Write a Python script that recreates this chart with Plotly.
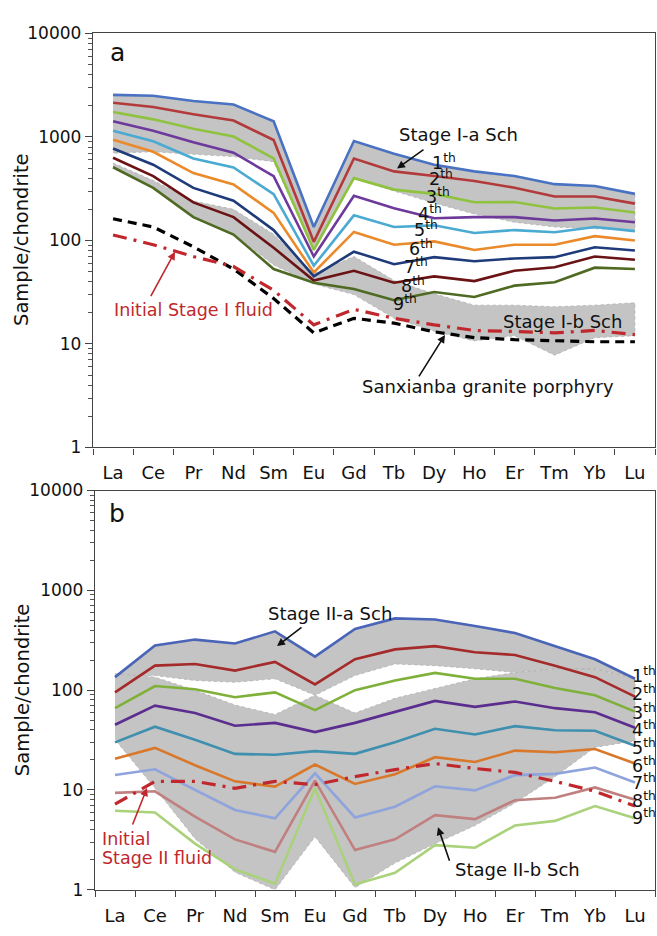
import plotly.graph_objects as go

cats = ["La", "Ce", "Pr", "Nd", "Sm", "Eu", "Gd", "Tb", "Dy", "Ho", "Er", "Tm", "Yb", "Lu"]

# ---- panel a : Stage I scheelite (chondrite-normalised) ----
a1 = [2550, 2500, 2230, 2060, 1420, 135, 915, 690, 540, 465, 420, 350, 336, 282]
a2 = [2140, 1950, 1660, 1440, 935, 97, 620, 465, 420, 375, 323, 266, 266, 227]
a3 = [1740, 1480, 1200, 1010, 620, 81, 400, 310, 282, 234, 235, 204, 208, 186]
a4 = [1420, 1150, 890, 705, 418, 70, 270, 205, 164, 168, 168, 156, 163, 150]
a5 = [1150, 910, 620, 507, 280, 57, 175, 135, 140, 118, 126, 120, 135, 123]
a6 = [940, 720, 448, 348, 185, 49, 121, 91, 98, 81, 91, 91, 110, 100]
a7 = [775, 540, 322, 242, 126, 45, 78, 59, 69, 63, 67, 69, 86, 80]
a8 = [630, 418, 233, 168, 85, 41, 51, 39, 45, 40.5, 51, 55, 70, 65]
a9 = [510, 322, 168, 114, 53, 39, 34, 26.5, 31.8, 28.4, 36.6, 39.4, 54.6, 53]
granite = [162, 135, 87, 53, 27.5, 12.8, 17.7, 15.9, 13.1, 11.5, 11, 10.7, 10.5, 10.5]
fluid1 = [113, 91, 70, 56, 33, 15.3, 21.6, 17.7, 15.3, 13.5, 13.2, 12.8, 13.5, 12.3]
Ia_upper = a1
Ia_lower = [695, 720, 680, 646, 577, 80, 400, 300, 230, 180, 150, 135, 130, 125]
Ib_upper = [560, 380, 240, 200, 115, 48, 70, 41, 30.5, 23.7, 23.7, 22.9, 23.7, 25]
Ib_lower = [500, 330, 170, 115, 58, 38, 30, 17.7, 13.3, 10.7, 12, 7.8, 11.5, 12]

# ---- panel b : Stage II scheelite ----
b1 = [135, 280, 321, 293, 388, 217, 411, 523, 510, 440, 373, 276, 204, 130]
b2 = [95, 176, 183, 157, 192, 114, 204, 256, 276, 240, 225, 176, 135, 86]
b3 = [66, 110, 102, 85, 95, 63, 100, 125, 149, 130, 130, 105, 89, 61]
b4 = [45, 70, 59, 44, 47, 38, 47, 61, 78, 68, 77, 66, 60, 42]
b5 = [30, 43, 31.8, 23, 22.5, 24.5, 23, 30, 41, 36, 43.6, 39.6, 39.2, 27.7]
b6 = [20.6, 26.4, 17.7, 12.2, 10.8, 18, 11.5, 14.4, 21.3, 19.1, 24.8, 23.9, 25.7, 18.4]
b7 = [14.1, 16.1, 10, 6.3, 5.2, 14.7, 5.3, 6.8, 10.9, 9.9, 14.1, 14.5, 16.8, 11.9]
b8 = [9.35, 9.7, 5.4, 3.2, 2.4, 12.4, 2.5, 3.2, 5.6, 5.1, 7.9, 8.35, 10.6, 8.0]
b9 = [6.2, 5.95, 2.9, 1.6, 1.15, 10.4, 1.13, 1.48, 2.8, 2.64, 4.4, 4.9, 6.9, 5.2]
fluid2 = [7.2, 12.2, 12.2, 10.4, 12.2, 11.3, 13.6, 16, 18.4, 16.4, 15, 12.2, 9.7, 6.9]
IIa_upper = b1
IIa_lower = [135, 140, 125, 120, 130, 89, 140, 183, 176, 164, 150, 163, 163, 130]
IIb_upper = [146, 135, 100, 71, 57, 89, 59, 83, 104, 130, 150, 163, 163, 130]
IIb_lower = [32, 10.4, 3.25, 1.5, 1.0, 3.4, 1.05, 1.85, 2.9, 4.4, 7.4, 13.6, 26.8, 31]

ord_labels = ["1", "2", "3", "4", "5", "6", "7", "8", "9"]
y_ticks = [1, 10, 100, 1000, 10000]
y_ticktext = ["1", "10", "100", "1000", "10000"]

colors_a = ["#4a72c2", "#b33a3a", "#8fc23f", "#6d3a9c", "#4aaad2",
            "#ea8a2b", "#1f3b7a", "#6a1214", "#4f6a22"]
colors_b = ["#4a64b8", "#a52a2a", "#7fb03a", "#5b2d8e", "#3f8fae",
            "#d9782a", "#8fa3dc", "#c08080", "#a9d27a"]
GREY = "#c4c4c4"
RED = "#c0282d"
FONT = "DejaVu Sans"
W, H = 657, 936

fig = go.Figure()


def band(upper, lower, xa, ya):
    fig.add_trace(go.Scatter(
        x=cats + cats[::-1], y=upper + lower[::-1], xaxis=xa, yaxis=ya,
        fill="toself", fillcolor=GREY, mode="lines",
        line=dict(color="#b0b0b0", width=0.8, dash="dot"),
        hoverinfo="skip", showlegend=False))


band(Ia_upper, Ia_lower, "x", "y")
band(Ib_upper, Ib_lower, "x", "y")
band(IIa_upper, IIa_lower, "x2", "y2")
band(IIb_upper, IIb_lower, "x2", "y2")

for ser, col in zip([a1, a2, a3, a4, a5, a6, a7, a8, a9], colors_a):
    fig.add_trace(go.Scatter(x=cats, y=ser, xaxis="x", yaxis="y", mode="lines",
                             line=dict(color=col, width=2.6), showlegend=False))
fig.add_trace(go.Scatter(x=cats, y=granite, xaxis="x", yaxis="y", mode="lines",
                         line=dict(color="black", width=3.2, dash="9px,6px"), showlegend=False))
fig.add_trace(go.Scatter(x=cats, y=fluid1, xaxis="x", yaxis="y", mode="lines",
                         line=dict(color=RED, width=3.2, dash="14px,7px,3px,7px"), showlegend=False))

for ser, col in zip([b1, b2, b3, b4, b5, b6, b7, b8, b9], colors_b):
    fig.add_trace(go.Scatter(x=cats, y=ser, xaxis="x2", yaxis="y2", mode="lines",
                             line=dict(color=col, width=2.6), showlegend=False))
fig.add_trace(go.Scatter(x=cats, y=fluid2, xaxis="x2", yaxis="y2", mode="lines",
                         line=dict(color=RED, width=3.2, dash="14px,7px,3px,7px"), showlegend=False))

minor_vals = [m * 10 ** e for e in range(0, 4) for m in range(2, 10)]

xcommon = dict(type="category", categoryorder="array", categoryarray=cats,
               range=[-0.5, 13.5], tickson="boundaries", ticks="outside", ticklen=6,
               tickcolor="#444", showline=True, linecolor="#444", linewidth=1.4,
               mirror=True, showgrid=False, zeroline=False, ticklabelstandoff=9,
               tickfont=dict(family=FONT, size=18, color="#111"))
ycommon = dict(type="log", range=[0, 4], tickmode="array", tickvals=y_ticks,
               ticktext=y_ticktext, ticks="outside", ticklen=7, tickcolor="#444",
               showline=True, linecolor="#444", linewidth=1.4, mirror=True,
               showgrid=False, zeroline=False,
               minor=dict(tickmode="array", tickvals=minor_vals, ticks="outside",
                          ticklen=4, tickcolor="#555", showgrid=False),
               tickfont=dict(family=FONT, size=17, color="#111"))

fig.update_layout(
    width=W, height=H, margin=dict(l=0, r=0, t=0, b=0),
    paper_bgcolor="white", plot_bgcolor="white", showlegend=False,
    xaxis=dict(domain=[93 / W, 655 / W], anchor="y", **xcommon),
    yaxis=dict(domain=[1 - 447 / H, 1 - 24 / H], anchor="x", **ycommon),
    xaxis2=dict(domain=[95 / W, 655 / W], anchor="y2", **xcommon),
    yaxis2=dict(domain=[1 - 899 / H, 1 - 491 / H], anchor="x2", **ycommon),
)


def P(px, py):
    return px / W, 1 - py / H


def text(px, py, s, size=18, color="#111", xanchor="center", angle=0):
    x, y = P(px, py)
    fig.add_annotation(x=x, y=y, xref="paper", yref="paper", text=s, showarrow=False,
                       xanchor=xanchor, yanchor="middle", textangle=angle,
                       font=dict(family=FONT, size=size, color=color))


def arrow(tx, ty, hx, hy, color="#111"):
    x, y = P(hx, hy)
    fig.add_annotation(x=x, y=y, xref="paper", yref="paper", text="", showarrow=True,
                       ax=tx - hx, ay=ty - hy, axref="pixel", ayref="pixel",
                       arrowhead=2, arrowsize=1, arrowwidth=1.6, arrowcolor=color)


# axis titles
text(22, 235, "Sample/chondrite", size=19.5, angle=-90)
text(22, 695, "Sample/chondrite", size=19.5, angle=-90)

# panel a
text(117, 43, "a", size=25)
text(458, 127, "Stage I-a Sch", size=18)
arrow(425, 142, 397, 162)
ord_a = [(430, 155), (427, 172), (424, 190), (416, 207), (412, 224),
         (407, 243), (402, 262), (399, 281), (391, 299)]
for lab, (px, py) in zip(ord_labels, ord_a):
    text(px, py, lab + "<sup>th</sup>", size=17.5, xanchor="left")
text(112, 307, "Initial Stage I fluid", size=17.5, color=RED, xanchor="left")
arrow(150, 293, 175, 247, color=RED)
text(562, 318, "Stage I-b Sch", size=18)
text(488, 385, "Sanxianba granite porphyry", size=18)
arrow(418, 375, 445, 332)

# panel b
text(117, 514, "b", size=25)
text(330, 617, "Stage II-a Sch", size=18)
arrow(303, 630, 277, 650)
ord_b_y = [680, 698, 717, 735, 753, 771, 789, 807, 825]
for lab, py in zip(ord_labels, ord_b_y):
    text(630, py, lab + "<sup>th</sup>", size=17.5, xanchor="left")
text(100, 847, "Initial", size=17.5, color=RED, xanchor="left")
text(100, 867, "Stage II fluid", size=17.5, color=RED, xanchor="left")
arrow(132, 833, 147, 795, color=RED)
text(517, 878, "Stage II-b Sch", size=18)
arrow(450, 870, 438, 835)

fig.write_html("out.html")
